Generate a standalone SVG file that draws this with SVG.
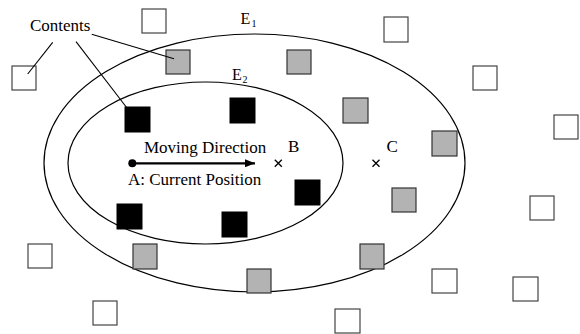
<svg xmlns="http://www.w3.org/2000/svg" width="580" height="334" viewBox="0 0 580 334">
<defs>
<style>
.t{font-family:"Liberation Serif","Times New Roman",serif;font-size:17px;fill:#000}
.e{font-family:"Liberation Serif","Times New Roman",serif;font-size:16px;fill:#000}
.s{font-family:"Liberation Serif","Times New Roman",serif;font-size:10px;fill:#000}
.ell{fill:none;stroke:#000;stroke-width:1.2}
.w{fill:#fff;stroke:#444;stroke-width:1.2}
.g{fill:#b3b3b3;stroke:#333;stroke-width:1.2}
.b{fill:#000;stroke:#000;stroke-width:1}
.ln{stroke:#000;stroke-width:1.1;fill:none}
.x{stroke:#000;stroke-width:1.3;fill:none}
</style>
<marker id="ah" markerWidth="10" markerHeight="8" refX="10" refY="4" orient="auto" markerUnits="userSpaceOnUse">
<path d="M0,0 L10,4 L0,8 Z" fill="#000"/>
</marker>
</defs>
<rect width="580" height="334" fill="#fff"/>
<g id="E1"><ellipse class="ell" cx="254.5" cy="163" rx="210.5" ry="129"/>
<text class="e" x="240.5" y="24">E</text><text class="s" x="251.5" y="27">1</text></g>
<g id="E2"><ellipse class="ell" cx="205.5" cy="163" rx="137.5" ry="81"/>
<text class="e" x="232" y="80">E</text><text class="s" x="242.5" y="83">2</text></g>
<g id="contents">
<rect class="w" x="142" y="9" width="24" height="24"/>
<rect class="w" x="12" y="66" width="24" height="24"/>
<rect class="w" x="384" y="17" width="24" height="25"/>
<rect class="w" x="473" y="66" width="24" height="24"/>
<rect class="w" x="554" y="115" width="24" height="24"/>
<rect class="w" x="530" y="196" width="24" height="24"/>
<rect class="w" x="28" y="244" width="24" height="24"/>
<rect class="w" x="432" y="269" width="25" height="24"/>
<rect class="w" x="513" y="277" width="25" height="24"/>
<rect class="w" x="93" y="301" width="24" height="24"/>
<rect class="w" x="335" y="309" width="25" height="24"/>
<rect class="g" x="166" y="50" width="24" height="24"/>
<rect class="g" x="287" y="50" width="24" height="24"/>
<rect class="g" x="343" y="98" width="25" height="25"/>
<rect class="g" x="432" y="131" width="25" height="25"/>
<rect class="g" x="392" y="188" width="24" height="24"/>
<rect class="g" x="360" y="244" width="24" height="25"/>
<rect class="g" x="133" y="244" width="24" height="25"/>
<rect class="g" x="247" y="269" width="24" height="24"/>
<rect class="b" x="125" y="107" width="25" height="25"/>
<rect class="b" x="230" y="98" width="25" height="25"/>
<rect class="b" x="295" y="180" width="25" height="25"/>
<rect class="b" x="117" y="204" width="25" height="25"/>
<rect class="b" x="222" y="212" width="25" height="25"/>
</g>
<g id="label-contents"><text class="t" x="30" y="30.5">Contents</text></g>
<g id="connectors">
<line class="ln" x1="52.7" y1="42.3" x2="27.7" y2="74"/>
<line class="ln" x1="76" y1="41.7" x2="127" y2="108"/>
<line class="ln" x1="91.7" y1="34.3" x2="174" y2="58.7"/>
<line x1="132.3" y1="163.3" x2="255" y2="163.3" stroke="#000" stroke-width="2.2" marker-end="url(#ah)"/>
</g>
<g id="A"><circle cx="132.3" cy="163.3" r="4" fill="#000"/>
<text class="t" x="144" y="152.5">Moving Direction</text>
<text class="t" x="128" y="185">A: Current Position</text></g>
<g id="B"><path class="x" d="M274.8,159.8 L281.8,166.8 M281.8,159.8 L274.8,166.8"/>
<text class="t" x="288" y="152">B</text></g>
<g id="C"><path class="x" d="M372.5,159.8 L379.5,166.8 M379.5,159.8 L372.5,166.8"/>
<text class="t" x="386.5" y="152">C</text></g>
</svg>
